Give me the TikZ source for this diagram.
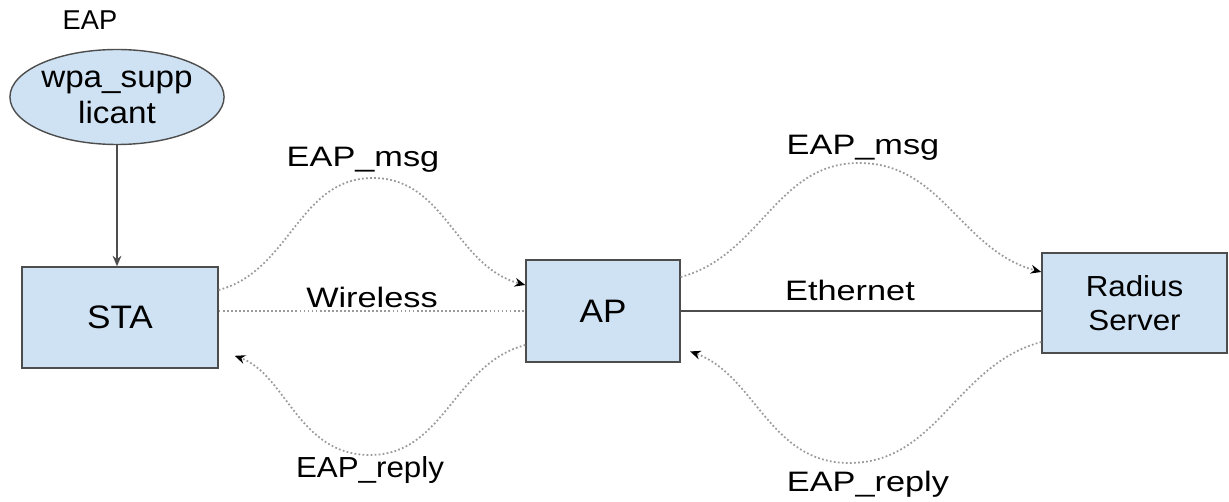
\documentclass[tikz,border=0pt]{standalone}
\usepackage{fontspec}
\setmainfont{Liberation Sans}
\newfontfamily\boxfont[FakeStretch=1.08]{Liberation Sans}
\newfontfamily\lblfont[FakeStretch=1.22]{Liberation Sans}
\usetikzlibrary{arrows.meta,shapes.geometric}
\definecolor{boxblue}{HTML}{CFE2F3}
\definecolor{boxline}{HTML}{4D4D4D}
\definecolor{dotgray}{HTML}{9A9A9A}
\tikzset{
  entity/.style={draw=boxline, fill=boxblue, line width=0.8pt, align=center, font=\boxfont\fontsize{16.5}{19.5}\selectfont},
  dotline/.style={draw=dotgray, line width=1pt, dash pattern=on 1pt off 1.3pt},
  tip/.style={-{Stealth[length=6pt,width=5pt,color=black]}},
  lbl/.style={font=\lblfont\fontsize{16}{19}\selectfont}
}
\begin{document}
\begin{tikzpicture}
  \useasboundingbox (0,0) rectangle (24.58,10.04);
  % Nodes
  \node (supp) [ellipse, entity, minimum width=4.2cm, minimum height=1.9cm, inner sep=0pt, font=\boxfont\fontsize{17.5}{20.5}\selectfont] at (2.34,8.1) {wpa\_supp\\licant};
  \node (sta) [rectangle, entity, minimum width=3.92cm, minimum height=2.02cm, font=\boxfont\fontsize{18.5}{21}\selectfont] at (2.4,3.69) {STA};
  \node (ap) [rectangle, entity, minimum width=3.08cm, minimum height=2.04cm, font=\boxfont\fontsize{18.5}{21}\selectfont] at (12.06,3.82) {AP};
  \node (radius) [rectangle, entity, minimum width=3.7cm, minimum height=2cm] at (22.69,3.98) {Radius\\Server};
  % Labels
  \node (eap) [lbl, font=\fontsize{15.5}{18}\selectfont] at (1.8,9.64) {EAP};
  \node (msg-l-txt) [lbl] at (7.26,6.84) {EAP\_msg};
  \node (wireless) [lbl] at (7.44,4.1) {Wireless};
  \node (reply-l-txt) [lbl, font=\boxfont\fontsize{16.5}{19}\selectfont] at (7.4,0.64) {EAP\_reply};
  \node (msg-r-txt) [lbl] at (17.26,7.08) {EAP\_msg};
  \node (ethernet) [lbl] at (17.0,4.24) {Ethernet};
  \node (reply-r-txt) [lbl] at (17.36,0.36) {EAP\_reply};
  % Curve peaks
  \coordinate (msg-l) at (7.46,6.48);
  \coordinate (reply-l) at (7.4,0.94);
  \coordinate (msg-r) at (17.18,6.78);
  \coordinate (reply-r) at (16.98,0.78);
  % Arrow
  \draw[-{Stealth[length=6pt,width=5pt]}, line width=0.8pt, boxline] (supp.south) -- (supp.south |- sta.north);
  \draw[dotline] (sta.east |- ap.west) -- (ap.west);
  \draw[line width=0.8pt, boxline] (ap.east) -- (ap.east -| radius.west);
  \draw[dotline, tip] ([yshift=0.55cm]sta.east) to[out=15,in=180] (msg-l) to[out=0,in=165] ([yshift=0.52cm]ap.west);
  \draw[dotline, tip, shorten >=0.34cm] ([yshift=-0.68cm]ap.west) to[out=195,in=0] (reply-l) to[out=180,in=-20] ([yshift=-0.65cm]sta.east);
  \draw[dotline, tip] ([yshift=0.68cm]ap.east) to[out=15,in=180] (msg-r) to[out=0,in=165] ([yshift=0.62cm]radius.west);
  \draw[dotline, tip, shorten >=0.2cm] ([yshift=-0.78cm]radius.west) to[out=195,in=0] (reply-r) to[out=180,in=-20] ([yshift=-0.74cm]ap.east);
\end{tikzpicture}
\end{document}
